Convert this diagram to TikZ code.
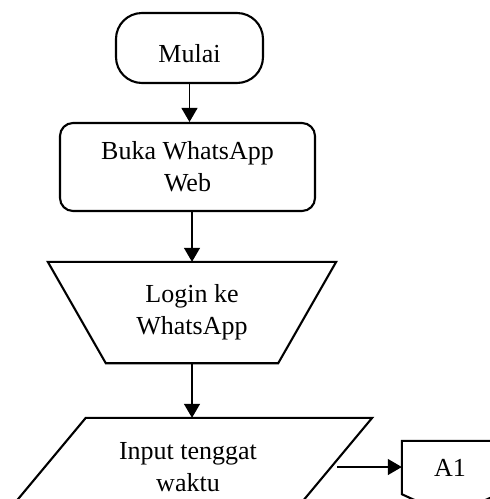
\documentclass[tikz,border=0pt]{standalone}
\usepackage{fontspec}
\setmainfont{Liberation Serif}
\usetikzlibrary{shapes.geometric,arrows.meta,calc}
\begin{document}
\begin{tikzpicture}[x=1pt,y=-1pt,
  shp/.style={draw, line width=2.1pt, font=\fontsize{26}{32}\selectfont, align=center, inner sep=0pt},
  txt/.style={font=\fontsize{26}{32}\selectfont, align=center, inner sep=0pt},
  bord/.style={line width=2.1pt, line join=miter},
  arr/.style={line width=1.3pt, -{Triangle[length=14pt,width=16pt]}}]
\useasboundingbox (0,0) rectangle (490,499);
\clip (0,0) rectangle (490,499);
% terminal
\node[shp, rounded corners=26pt, minimum width=147pt, minimum height=70pt, text height=28pt, text depth=0pt] (mulai) at (189.5,48) {Mulai};
% process
\node[shp, rounded corners=13pt, minimum width=255pt, minimum height=88pt] (buka) at (187.5,167) {Buka WhatsApp\\Web};
% manual operation
\node[txt, minimum width=288pt, minimum height=101pt] (login) at (192,312.5) {Login ke\\WhatsApp};
\draw[bord] (login.north west) -- (login.north east) -- ($(login.south east)+(-58,0)$) -- ($(login.south west)+(58,0)$) -- cycle;
% input
\node[txt, minimum width=368pt, minimum height=98pt] (input) at (188,467) {Input tenggat\\waktu};
\draw[bord] ($(input.north west)+(82,0)$) -- (input.north east) -- ($(input.south east)+(-82,0)$) -- (input.south west) -- cycle;
\coordinate (ie) at ($(input.east)+(-35,0)$);
% off-page connector
\node[txt, minimum width=96pt, minimum height=53pt] (a1) at (450,467.5) {A1};
\draw[bord] (a1.north west) -- (a1.north east) -- (a1.south east) -- ($(a1.south)+(0,22)$) -- (a1.south west) -- cycle;
% connectors
\draw[arr] (mulai.south) -- (mulai.south |- buka.north);
\draw[arr] (login.north |- buka.south) -- (login.north);
\draw[arr] (login.south) -- (login.south |- input.north);
\draw[arr] (ie) -- (ie -| a1.west);
\end{tikzpicture}
\end{document}
